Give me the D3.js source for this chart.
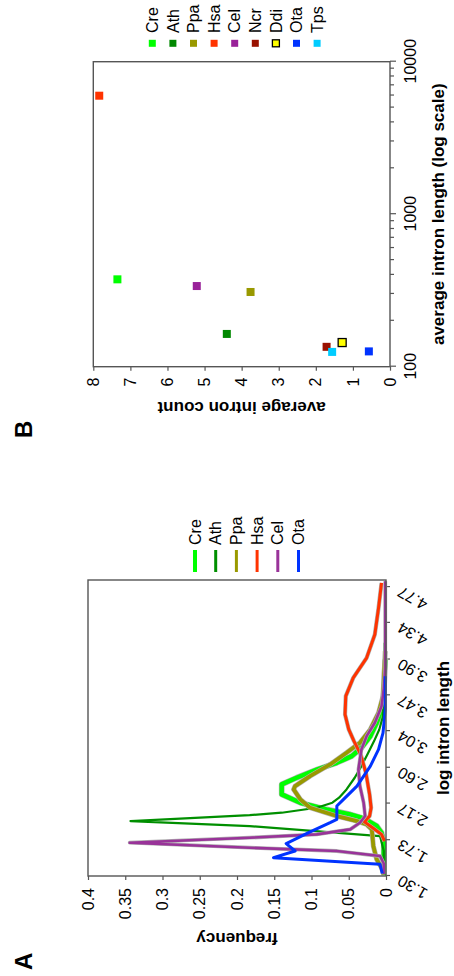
<!DOCTYPE html>
<html><head><meta charset="utf-8">
<script src="https://cdn.jsdelivr.net/npm/d3@7"></script>
<style>
body{margin:0;background:#fff}
svg{display:block}
text{font-family:"Liberation Sans",Arial,Helvetica,sans-serif;fill:#000}
</style>
</head><body>
<svg id="chart" width="454" height="976"></svg>
<script>
// ---------- Panel A data: [log10 intron length, frequency] ----------
const seriesNamesA = ["Cre","Ath","Ppa","Hsa","Cel","Ota"];
const lenTicksA = [1.30,1.73,2.17,2.60,3.04,3.47,3.90,4.34,4.77];
const lenTickLabelsA = ["1.30","1.73","2.17","2.60","3.04","3.47","3.90","4.34","4.77"];
const freqTicksA = [0,0.05,0.1,0.15,0.2,0.25,0.3,0.35,0.4];
const freqTickLabelsA = ["0","0.05","0.1","0.15","0.2","0.25","0.3","0.35","0.4"];

const creA = [[1.31,0.003],[1.70,0.003],[1.82,0.006],[1.90,0.0125],[1.96,0.024],[2.00,0.033],[2.04,0.048],[2.10,0.080],[2.18,0.115],[2.28,0.140],[2.40,0.140],[2.48,0.120],[2.58,0.092],[2.66,0.066],[2.74,0.046],[2.84,0.033],[2.98,0.021],[3.14,0.0125],[3.30,0.006],[3.50,0.003],[3.90,0.001]];
const athA = [[1.40,0.003],[1.60,0.003],[1.78,0.008],[1.90,0.183],[1.96,0.343],[2.03,0.183],[2.06,0.140],[2.12,0.093],[2.18,0.072],[2.24,0.063],[2.34,0.053],[2.48,0.042],[2.62,0.033],[2.76,0.025],[2.92,0.016],[3.06,0.009],[3.22,0.004],[3.60,0.002],[4.10,0.002]];
const ppaA = [[1.32,0.003],[1.40,0.006],[1.50,0.0125],[1.66,0.017],[1.86,0.019],[1.92,0.026],[1.96,0.039],[2.02,0.066],[2.12,0.102],[2.22,0.115],[2.34,0.124],[2.38,0.122],[2.50,0.102],[2.64,0.075],[2.78,0.053],[2.90,0.035],[3.06,0.021],[3.26,0.010],[3.46,0.004],[4.00,0.001]];
const hsaA = [[1.72,0.002],[1.80,0.006],[1.88,0.018],[1.95,0.029],[2.02,0.022],[2.12,0.020],[2.28,0.022],[2.54,0.027],[2.76,0.034],[2.92,0.043],[3.06,0.050],[3.24,0.055],[3.46,0.054],[3.68,0.044],[3.92,0.026],[4.20,0.015],[4.52,0.010],[4.82,0.006]];
const celA = [[1.32,0.003],[1.45,0.003],[1.54,0.008],[1.60,0.066],[1.64,0.183],[1.70,0.344],[1.76,0.183],[1.80,0.093],[1.86,0.048],[1.94,0.035],[2.02,0.028],[2.18,0.030],[2.38,0.035],[2.58,0.037],[2.82,0.033],[2.98,0.026],[3.14,0.015],[3.34,0.006],[3.55,0.003],[3.80,0.001],[4.84,0.001]];
const otaA = [[1.33,0.005],[1.44,0.008],[1.52,0.151],[1.60,0.122],[1.69,0.134],[1.82,0.104],[1.94,0.075],[1.98,0.066],[2.14,0.066],[2.22,0.057],[2.38,0.039],[2.62,0.021],[2.82,0.010],[3.02,0.004],[3.30,0.001],[3.70,0.001]];
const colorsA = ["#00ff00","#008f00","#999900","#ff3300","#993399","#0033ff"];

// ---------- Panel B data ----------
const speciesB = ["Cre","Ath","Ppa","Hsa","Cel","Ncr","Ddi","Ota","Tps"];
const avgLengthB = [374,164,309,5985,338,135,144,126,125];
const avgCountB = [7.35,4.40,3.76,7.84,5.21,1.71,1.29,0.57,1.56];
const colorsB = ["#00ff00","#008800","#999900","#ff3300","#992299","#991100","#ffff00","#0033ff","#00ccff"];
const countTicksB = [0,1,2,3,4,5,6,7,8];
const lengthMajorTicksB = [100,1000,10000];

// ---------- drawing (layout drawn landscape, then rotated) ----------
const svg = d3.select("#chart");
const root = svg.append("g").attr("transform","translate(0,976) rotate(-90)");
const frameColor = "#555";
const tickFont = 16;

// Panel A
const A = {x0:100, x1:396, y0:88, y1:386};
const xA = d3.scaleLinear().domain([1.30,4.855]).range([A.x0,A.x1]);
const yA = d3.scaleLinear().domain([0,0.4]).range([A.y1,A.y0]);
const gA = root.append("g");

const yAxisA = gA.append("g").attr("transform",`translate(${A.x0},0)`)
  .call(d3.axisLeft(yA).tickValues(freqTicksA).tickFormat((d,i)=>freqTickLabelsA[i]).tickSize(4).tickPadding(8));
const xAxisA = gA.append("g").attr("transform",`translate(0,${A.y1})`)
  .call(d3.axisBottom(xA).tickValues(lenTicksA).tickFormat((d,i)=>lenTickLabelsA[i]).tickSize(4));
xAxisA.selectAll("text").attr("y",null).attr("dy","0.35em")
  .attr("transform","translate(-4,13) rotate(-60)").style("text-anchor","end");
[yAxisA,xAxisA].forEach(ax=>{
  ax.select(".domain").remove();
  ax.selectAll("line").attr("stroke",frameColor).attr("stroke-width",1.2);
  ax.selectAll("text").attr("font-size",tickFont).attr("fill","#000");
});

const lineA = d3.line().x(d=>xA(d[0])).y(d=>yA(d[1]));
const dataA = [creA,athA,ppaA,hsaA,celA,otaA];
const widthsA = [4.5,2.2,3.8,3,2.6,3];
const haloA = [true,false,true,true,true,false];
const curves = gA.append("g");
dataA.forEach((s,i)=>{
  if(haloA[i]) curves.append("path").attr("d",lineA(s)).attr("fill","none")
      .attr("stroke","#b0b0b0").attr("stroke-width",widthsA[i]+1.2).attr("stroke-linejoin","round");
  curves.append("path").attr("d",lineA(s)).attr("fill","none")
    .attr("stroke",colorsA[i]).attr("stroke-width",widthsA[i]).attr("stroke-linejoin","round");
});
gA.append("rect").attr("x",A.x0).attr("y",A.y0).attr("width",A.x1-A.x0).attr("height",A.y1-A.y0)
  .attr("fill","none").attr("stroke",frameColor).attr("stroke-width",1.4);

const legA = gA.append("g");
seriesNamesA.forEach((n,i)=>{
  const y = 195 + i*20.7;
  legA.append("line").attr("x1",404).attr("x2",426).attr("y1",y).attr("y2",y)
    .attr("stroke",colorsA[i]).attr("stroke-width",i===0?4:3);
  legA.append("text").attr("x",431).attr("y",y).attr("dy","0.35em").attr("font-size",16).text(n);
});
gA.append("text").attr("x",(A.x0+A.x1)/2).attr("y",449).attr("text-anchor","middle")
  .attr("font-size",17).attr("font-weight","bold").text("log intron length");
gA.append("text").attr("transform",`translate(43,${(A.y0+A.y1)/2}) rotate(-90)`).attr("text-anchor","middle")
  .attr("font-size",17).attr("font-weight","bold").text("frequency");
gA.append("text").attr("x",6).attr("y",32).attr("font-size",24).attr("font-weight","bold").text("A");

// Panel B
const B = {x0:609.3, x1:914.3, y0:93.3, y1:390};
const xB = d3.scaleLog().domain([100,10000]).range([B.x0,B.x1]);
const yB = d3.scaleLinear().domain([0,8]).range([B.y1,B.y0]);
const gB = root.append("g");

const minorTicksB = [];
[100,1000].forEach(base=>{for(let k=2;k<=9;k++) minorTicksB.push(base*k);});
const xMinorB = gB.append("g").attr("transform",`translate(0,${B.y1})`)
  .call(d3.axisBottom(xB).tickValues(minorTicksB).tickSize(4).tickFormat(""));
const xAxisB = gB.append("g").attr("transform",`translate(0,${B.y1})`)
  .call(d3.axisBottom(xB).tickValues(lengthMajorTicksB).tickSize(6).tickPadding(9).tickFormat(d3.format("d")));
const yAxisB = gB.append("g").attr("transform",`translate(${B.x0},0)`)
  .call(d3.axisLeft(yB).tickValues(countTicksB).tickSize(4).tickPadding(7).tickFormat(d3.format("d")));
[xMinorB,xAxisB,yAxisB].forEach(ax=>{
  ax.select(".domain").remove();
  ax.selectAll("line").attr("stroke",frameColor).attr("stroke-width",1.2);
  ax.selectAll("text").attr("font-size",tickFont).attr("fill","#000");
});
gB.append("rect").attr("x",B.x0).attr("y",B.y0).attr("width",B.x1-B.x0).attr("height",B.y1-B.y0)
  .attr("fill","none").attr("stroke",frameColor).attr("stroke-width",1.4);

const sq = 8;
gB.append("g").selectAll("rect").data(speciesB).join("rect")
  .attr("x",(d,i)=>xB(avgLengthB[i])-sq/2).attr("y",(d,i)=>yB(avgCountB[i])-sq/2)
  .attr("width",sq).attr("height",sq)
  .attr("fill",(d,i)=>colorsB[i])
  .attr("stroke",(d,i)=>d==="Ddi"?"#000":"none").attr("stroke-width",1.3);

const legB = gB.append("g");
speciesB.forEach((n,i)=>{
  const y = 152.3 + i*20.6;
  legB.append("rect").attr("x",932.7-3.5).attr("y",y-3.5).attr("width",7).attr("height",7)
    .attr("fill",colorsB[i]).attr("stroke",n==="Ddi"?"#000":"none").attr("stroke-width",1.3);
  legB.append("text").attr("x",943).attr("y",y).attr("dy","0.35em").attr("font-size",16).text(n);
});
gB.append("text").attr("x",(B.x0+B.x1)/2).attr("y",444).attr("text-anchor","middle")
  .attr("font-size",17).attr("font-weight","bold").text("average intron length (log scale)");
gB.append("text").attr("transform",`translate(574,${(B.y0+B.y1)/2}) rotate(-90)`).attr("text-anchor","middle")
  .attr("font-size",17).attr("font-weight","bold").text("average intron count");
gB.append("text").attr("x",538).attr("y",32).attr("font-size",24).attr("font-weight","bold").text("B");
</script>
</body></html>
